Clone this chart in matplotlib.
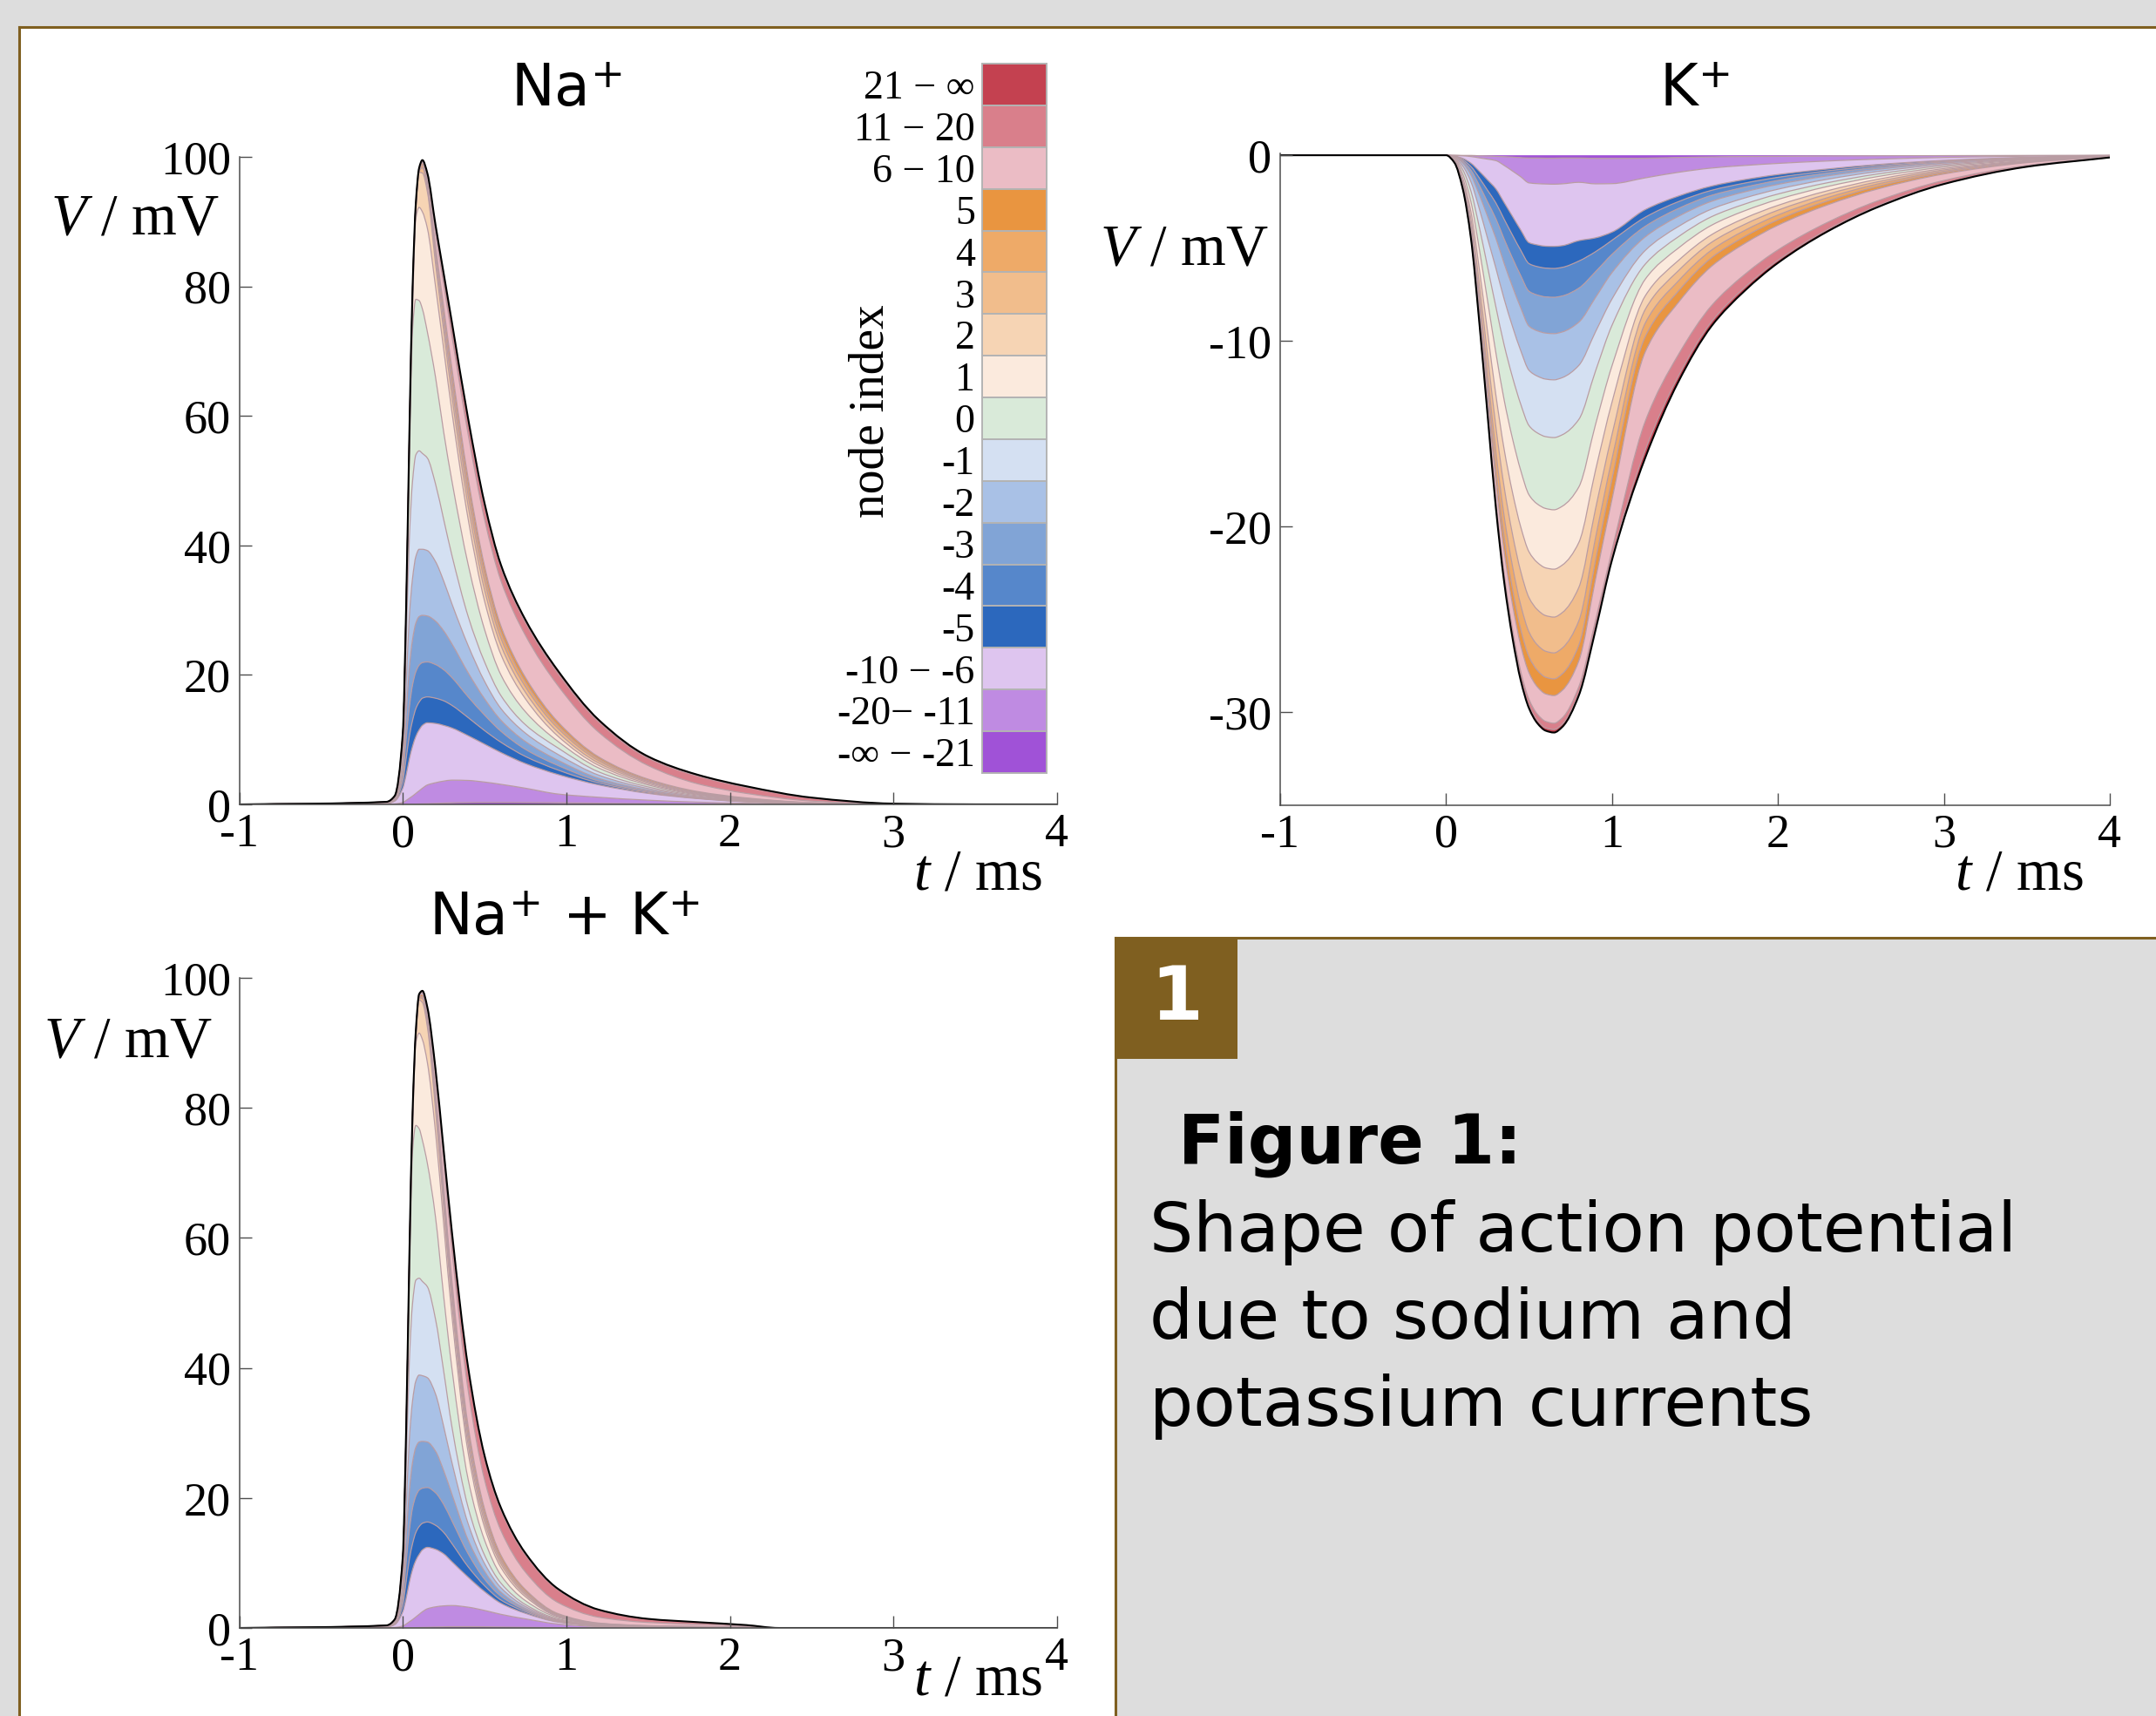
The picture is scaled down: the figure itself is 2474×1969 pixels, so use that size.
"""Action potential shape: stacked node contributions for Na+, K+ and Na+ + K+."""

import matplotlib
matplotlib.use("Agg")

import matplotlib.pyplot as plt
import numpy as np
from matplotlib.lines import Line2D
from matplotlib.patches import PathPatch, Rectangle
from matplotlib.path import Path

W, H, DPI = 2474, 1969, 100

plt.rcParams["mathtext.fontset"] = "custom"
plt.rcParams["mathtext.rm"] = "Liberation Serif"
plt.rcParams["mathtext.it"] = "Liberation Serif:italic"
plt.rcParams["mathtext.sf"] = "DejaVu Sans"

SERIF = "Liberation Serif"
SANS = "DejaVu Sans"
BROWN = "#7f5f20"
GRAY_BG = "#dddddd"
EDGE = "#b99ca3"
AXIS_COLOR = "#4d4d4d"

# legend entries, top to bottom
node_labels = ["21 \u2212 \u221e", "11 \u2212 20", "6 \u2212 10", "5", "4", "3", "2", "1", "0",
               "-1", "-2", "-3", "-4", "-5", "-10 \u2212 -6", "-20\u2212 -11", "-\u221e \u2212 -21"]
node_colors = ["#c44150", "#d97f8b", "#ebbcc5", "#e99540", "#eeaa68", "#f1bd8c", "#f6d4b4",
               "#fbeadd", "#d9ead9", "#d4e0f2", "#a9c1e6", "#81a4d6", "#5687cb", "#2c68bd",
               "#dec5ef", "#bf8be2", "#a052d7"]

# ---- Na+ panel: upper edge of each band (bottom band first), last row is the envelope ----
na_t = [-1.0, -0.1, -0.05, 0.0, 0.02, 0.04, 0.06, 0.08, 0.1, 0.12, 0.15, 0.2, 0.25, 0.3,
        0.4, 0.5, 0.6, 0.75, 0.95, 1.2, 1.5, 1.8, 2.1, 2.5, 3.0, 3.5, 4.0]
na_edges = [
    [0, 0, 0, 0.01, 0.02, 0.03, 0.04, 0.05, 0.07, 0.08, 0.1, 0.15, 0.2, 0.25, 0.3, 0.32, 0.32, 0.3, 0.25, 0.18, 0.1, 0.05, 0.02, 0.01, 0, 0, 0],
    [0, 0.02, 0.08, 0.3, 0.6, 0.95, 1.3, 1.7, 2.1, 2.5, 3.0, 3.35, 3.6, 3.75, 3.7, 3.45, 3.1, 2.5, 1.6, 1.1, 0.65, 0.35, 0.17, 0.05, 0.01, 0, 0],
    [0, 0.12, 0.5, 2.5, 4.5, 7.0, 9.0, 10.5, 11.5, 12.2, 12.6, 12.5, 12.2, 11.8, 10.6, 9.3, 8.0, 6.3, 4.6, 3.0, 1.7, 0.9, 0.4, 0.08, 0.01, 0, 0],
    [0, 0.15, 0.6, 3.5, 7.0, 10.5, 13.0, 14.8, 15.8, 16.4, 16.6, 16.4, 16.0, 15.3, 13.4, 11.4, 9.6, 7.4, 5.3, 3.3, 1.85, 0.95, 0.42, 0.09, 0.01, 0, 0],
    [0, 0.18, 0.7, 4.5, 10.0, 15.0, 18.5, 20.5, 21.5, 21.9, 22.0, 21.6, 20.8, 19.6, 16.6, 13.8, 11.3, 8.5, 6.0, 3.6, 2.0, 1.0, 0.45, 0.1, 0.01, 0, 0],
    [0, 0.2, 0.8, 5.5, 13.5, 21.0, 25.5, 28.0, 29.0, 29.2, 29.1, 28.3, 26.8, 24.8, 20.3, 16.3, 13.0, 9.7, 6.8, 4.0, 2.2, 1.1, 0.5, 0.11, 0.01, 0, 0],
    [0, 0.25, 0.9, 7.0, 18.0, 29.0, 35.0, 38.3, 39.4, 39.4, 39.2, 37.5, 34.5, 31.0, 24.5, 19.0, 14.8, 11.0, 7.7, 4.5, 2.45, 1.22, 0.56, 0.12, 0.01, 0, 0],
    [0, 0.3, 1.0, 8.5, 24.0, 41.0, 50.0, 54.0, 54.6, 54.2, 53.5, 49.5, 44.0, 38.5, 29.0, 22.0, 16.8, 12.3, 8.7, 5.0, 2.7, 1.35, 0.62, 0.14, 0.01, 0, 0],
    [0, 0.35, 1.1, 9.8, 27.5, 52.0, 73.5, 78.0, 77.8, 76.5, 73.0, 66.0, 57.5, 50.0, 37.0, 27.0, 20.0, 14.3, 9.7, 5.6, 3.0, 1.48, 0.7, 0.16, 0.01, 0, 0],
    [0, 0.37, 1.2, 10.4, 29.0, 55.5, 76.5, 90.5, 92.2, 91.5, 89.0, 80.0, 70.3, 60.7, 44.0, 31.4, 23.15, 16.3, 10.5, 6.0, 3.2, 1.58, 0.75, 0.18, 0.01, 0, 0],
    [0, 0.38, 1.22, 10.6, 29.5, 56.3, 79.3, 91.9, 97.6, 97.5, 94.65, 83.5, 73.1, 63.1, 46.0, 33.1, 24.55, 17.3, 11.1, 6.35, 3.4, 1.68, 0.81, 0.2, 0.01, 0, 0],
    [0, 0.39, 1.24, 10.7, 29.6, 56.5, 79.5, 92.2, 97.8, 98.3, 95.25, 84.6, 74.5, 64.7, 47.6, 34.5, 25.65, 18.15, 11.7, 6.7, 3.55, 1.78, 0.87, 0.22, 0.01, 0, 0],
    [0, 0.39, 1.26, 10.8, 29.7, 56.6, 79.6, 92.4, 97.9, 98.7, 95.75, 85.5, 75.7, 66.1, 49.0, 35.7, 26.65, 18.9, 12.2, 7.0, 3.7, 1.88, 0.93, 0.24, 0.01, 0, 0],
    [0, 0.4, 1.28, 10.85, 29.8, 56.7, 79.7, 92.6, 98.0, 99.0, 96.15, 86.3, 76.8, 67.4, 50.3, 36.8, 27.55, 19.6, 12.7, 7.3, 3.9, 2.0, 1.0, 0.27, 0.01, 0, 0],
    [0, 0.4, 1.3, 10.9, 29.85, 56.8, 79.8, 92.8, 98.1, 99.2, 96.95, 88.3, 80.3, 72.4, 57.1, 44.0, 34.55, 26.1, 18.3, 11.1, 6.0, 3.2, 1.7, 0.52, 0.04, 0, 0],
    [0, 0.4, 1.3, 10.95, 29.9, 56.9, 79.9, 92.9, 98.2, 99.35, 97.35, 89.2, 81.6, 74.0, 59.0, 46.0, 36.55, 28.1, 20.2, 12.7, 7.15, 4.4, 2.65, 0.97, 0.1, 0.01, 0],
    [0, 0.4, 1.3, 11.0, 30.0, 57.0, 80.0, 93.0, 98.3, 99.5, 97.5, 89.5, 82.0, 74.5, 59.5, 46.5, 37.0, 28.5, 20.6, 13.0, 7.4, 4.6, 2.8, 1.05, 0.12, 0.01, 0],
]

# ---- K+ panel ----
k_t = [-1.0, 0.0, 0.05, 0.1, 0.15, 0.2, 0.25, 0.3, 0.35, 0.4, 0.45, 0.5, 0.55, 0.6, 0.65,
       0.7, 0.8, 0.9, 1.0, 1.2, 1.4, 1.6, 1.8, 2.0, 2.3, 2.6, 3.0, 3.5, 4.0]
k_edges = [
    [0, 0, 0, -0.01, -0.01, -0.03, -0.04, -0.06, -0.08, -0.1, -0.13, -0.15, -0.15, -0.16, -0.16, -0.15, -0.15, -0.17, -0.17, -0.16, -0.12, -0.09, -0.07, -0.06, -0.04, -0.03, -0.02, -0.01, 0],
    [0, 0, -0.01, -0.03, -0.07, -0.14, -0.21, -0.29, -0.55, -0.85, -1.16, -1.49, -1.53, -1.55, -1.56, -1.54, -1.46, -1.54, -1.53, -1.22, -0.92, -0.69, -0.55, -0.44, -0.31, -0.21, -0.12, -0.05, -0.01],
    [0, 0, -0.04, -0.17, -0.43, -0.86, -1.33, -1.81, -2.55, -3.29, -4.03, -4.71, -4.83, -4.9, -4.91, -4.87, -4.6, -4.45, -4.14, -2.93, -2.2, -1.66, -1.31, -1.04, -0.74, -0.5, -0.28, -0.11, -0.02],
    [0, 0, -0.05, -0.24, -0.61, -1.22, -1.89, -2.57, -3.45, -4.3, -5.12, -5.84, -6.0, -6.08, -6.1, -6.04, -5.7, -5.2, -4.58, -3.34, -2.5, -1.89, -1.5, -1.19, -0.84, -0.57, -0.32, -0.13, -0.02],
    [0, 0, -0.07, -0.32, -0.81, -1.62, -2.52, -3.42, -4.52, -5.54, -6.49, -7.33, -7.53, -7.63, -7.65, -7.58, -7.16, -6.28, -5.34, -3.83, -2.87, -2.16, -1.72, -1.36, -0.96, -0.66, -0.36, -0.15, -0.03],
    [0, 0, -0.09, -0.42, -1.06, -2.12, -3.29, -4.47, -5.83, -7.07, -8.22, -9.21, -9.46, -9.58, -9.61, -9.52, -8.99, -7.67, -6.32, -4.4, -3.29, -2.48, -1.97, -1.57, -1.11, -0.76, -0.42, -0.17, -0.03],
    [0, 0, -0.13, -0.58, -1.44, -2.88, -4.48, -6.08, -7.75, -9.22, -10.53, -11.59, -11.9, -12.06, -12.1, -11.98, -11.32, -9.52, -7.74, -5.13, -3.84, -2.9, -2.3, -1.83, -1.29, -0.88, -0.49, -0.2, -0.04],
    [0, 0, -0.17, -0.77, -1.94, -3.87, -6.02, -8.17, -10.23, -11.95, -13.42, -14.57, -14.96, -15.16, -15.21, -15.06, -14.23, -11.64, -9.16, -5.87, -4.39, -3.31, -2.63, -2.09, -1.48, -1.01, -0.56, -0.22, -0.04],
    [0, 0, -0.22, -1.01, -2.52, -5.04, -7.84, -10.64, -13.19, -15.26, -16.99, -18.3, -18.79, -19.03, -19.1, -18.91, -17.87, -14.52, -11.34, -6.68, -5.0, -3.77, -2.99, -2.38, -1.68, -1.15, -0.64, -0.25, -0.05],
    [0, 0, -0.27, -1.22, -3.06, -6.12, -9.52, -12.92, -15.85, -18.16, -20.03, -21.37, -21.94, -22.23, -22.3, -22.08, -20.86, -16.99, -13.3, -7.58, -5.67, -4.28, -3.39, -2.7, -1.91, -1.3, -0.72, -0.29, -0.06],
    [0, 0, -0.31, -1.39, -3.47, -6.93, -10.78, -14.63, -17.88, -20.41, -22.43, -23.84, -24.48, -24.8, -24.88, -24.64, -23.28, -19.07, -15.04, -8.31, -6.22, -4.69, -3.72, -2.96, -2.09, -1.43, -0.79, -0.32, -0.06],
    [0, 0, -0.34, -1.51, -3.78, -7.56, -11.76, -15.96, -19.45, -22.13, -24.24, -25.69, -26.38, -26.72, -26.81, -26.55, -25.08, -20.63, -16.35, -9.05, -6.77, -5.11, -4.05, -3.22, -2.28, -1.55, -0.86, -0.34, -0.07],
    [0, 0, -0.36, -1.6, -4.01, -8.01, -12.46, -16.91, -20.57, -23.36, -25.55, -27.03, -27.75, -28.12, -28.21, -27.94, -26.39, -21.85, -17.44, -9.78, -7.32, -5.52, -4.38, -3.48, -2.46, -1.68, -0.93, -0.37, -0.07],
    [0, 0, -0.37, -1.67, -4.16, -8.33, -12.95, -17.58, -21.34, -24.19, -26.41, -27.89, -28.64, -29.02, -29.11, -28.83, -27.24, -22.86, -18.53, -10.6, -7.93, -5.98, -4.75, -3.77, -2.67, -1.82, -1.01, -0.4, -0.08],
    [0, 0, -0.39, -1.76, -4.41, -8.82, -13.72, -18.62, -22.56, -25.53, -27.82, -29.32, -30.11, -30.5, -30.6, -30.31, -28.63, -25.08, -21.26, -14.34, -10.74, -8.1, -6.42, -5.1, -3.61, -2.46, -1.36, -0.55, -0.11],
    [0, 0, -0.4, -1.79, -4.48, -8.96, -13.93, -18.91, -22.89, -25.87, -28.16, -29.65, -30.45, -30.85, -30.94, -30.65, -28.95, -25.45, -21.65, -15.89, -11.9, -8.97, -7.12, -5.66, -4.0, -2.73, -1.51, -0.6, -0.12],
    [0, 0, -0.4, -1.8, -4.5, -9.0, -14.0, -19.0, -23.0, -26.0, -28.3, -29.8, -30.6, -31.0, -31.1, -30.8, -29.1, -25.6, -21.8, -16.3, -12.2, -9.2, -7.3, -5.8, -4.1, -2.8, -1.55, -0.62, -0.12],
]

# ---- Na+ + K+ panel ----
nak_t = [-1.0, -0.1, -0.05, 0.0, 0.02, 0.04, 0.06, 0.08, 0.1, 0.12, 0.15, 0.2, 0.25, 0.3,
         0.4, 0.5, 0.6, 0.75, 0.95, 1.2, 1.5, 1.8, 2.1, 2.3, 3.0, 3.5, 4.0]
nak_edges = [
    [0, 0, 0, 0.01, 0.02, 0.03, 0.04, 0.05, 0.07, 0.08, 0.1, 0.14, 0.17, 0.2, 0.2, 0.18, 0.14, 0.1, 0.05, 0.02, 0.01, 0, 0, 0, 0, 0, 0],
    [0, 0.02, 0.08, 0.3, 0.6, 0.95, 1.3, 1.7, 2.1, 2.5, 2.95, 3.25, 3.4, 3.45, 3.2, 2.7, 2.1, 1.4, 0.6, 0.2, 0.1, 0.06, 0.02, 0, 0, 0, 0],
    [0, 0.12, 0.5, 2.5, 4.5, 7.0, 9.0, 10.4, 11.3, 12.0, 12.4, 12.1, 11.4, 10.2, 7.8, 5.6, 3.8, 2.25, 0.9, 0.3, 0.14, 0.08, 0.03, 0, 0, 0, 0],
    [0, 0.15, 0.6, 3.5, 7.0, 10.5, 13.0, 14.7, 15.6, 16.1, 16.3, 15.8, 14.7, 13.0, 9.4, 6.5, 4.3, 2.5, 0.98, 0.33, 0.15, 0.09, 0.04, 0, 0, 0, 0],
    [0, 0.18, 0.7, 4.5, 10.0, 15.0, 18.5, 20.3, 21.2, 21.5, 21.6, 20.8, 19.0, 16.5, 11.4, 7.5, 4.9, 2.75, 1.07, 0.36, 0.16, 0.1, 0.04, 0, 0, 0, 0],
    [0, 0.2, 0.8, 5.5, 13.5, 21.0, 25.5, 27.8, 28.6, 28.7, 28.6, 27.2, 24.2, 20.6, 13.5, 8.7, 5.5, 3.0, 1.17, 0.39, 0.17, 0.11, 0.05, 0, 0, 0, 0],
    [0, 0.25, 0.9, 7.0, 18.0, 29.0, 35.0, 38.0, 38.9, 38.8, 38.5, 36.0, 31.0, 25.5, 16.0, 9.9, 6.2, 3.3, 1.28, 0.43, 0.19, 0.12, 0.05, 0, 0, 0, 0],
    [0, 0.3, 1.0, 8.5, 24.0, 41.0, 50.0, 53.5, 53.8, 53.3, 52.5, 47.5, 39.5, 31.0, 18.5, 11.2, 6.9, 3.6, 1.4, 0.47, 0.21, 0.13, 0.06, 0, 0, 0, 0],
    [0, 0.35, 1.1, 9.8, 27.5, 52.0, 73.5, 77.3, 76.8, 75.0, 71.5, 63.2, 51.0, 40.0, 22.8, 13.5, 8.1, 4.2, 1.6, 0.53, 0.24, 0.15, 0.07, 0, 0, 0, 0],
    [0, 0.37, 1.2, 10.4, 29.0, 55.5, 76.5, 90.0, 91.5, 90.5, 87.0, 76.3, 62.1, 48.1, 26.9, 15.5, 9.3, 4.8, 1.75, 0.58, 0.26, 0.16, 0.08, 0, 0, 0, 0],
    [0, 0.38, 1.22, 10.6, 29.5, 56.3, 78.8, 90.9, 96.6, 96.2, 92.5, 79.7, 64.6, 50.0, 28.1, 16.3, 9.85, 5.1, 1.85, 0.62, 0.28, 0.18, 0.09, 0, 0, 0, 0],
    [0, 0.39, 1.24, 10.7, 29.6, 56.5, 79.0, 91.2, 96.9, 96.8, 93.1, 80.8, 65.9, 51.2, 29.1, 17.0, 10.3, 5.35, 1.95, 0.66, 0.3, 0.19, 0.1, 0, 0, 0, 0],
    [0, 0.39, 1.26, 10.8, 29.7, 56.6, 79.1, 91.4, 97.1, 97.1, 93.6, 81.7, 67.0, 52.4, 30.0, 17.6, 10.7, 5.6, 2.05, 0.7, 0.32, 0.2, 0.11, 0, 0, 0, 0],
    [0, 0.4, 1.28, 10.85, 29.8, 56.7, 79.2, 91.6, 97.2, 97.4, 94.0, 82.5, 68.0, 53.5, 31.0, 18.3, 11.2, 5.9, 2.2, 0.75, 0.35, 0.22, 0.12, 0, 0, 0, 0],
    [0, 0.4, 1.3, 10.9, 29.85, 56.8, 79.3, 91.8, 97.3, 97.7, 94.9, 84.8, 71.6, 58.3, 36.5, 22.8, 15.0, 8.6, 3.9, 1.65, 0.85, 0.55, 0.28, 0, 0, 0, 0],
    [0, 0.4, 1.3, 10.95, 29.9, 56.9, 79.4, 91.9, 97.4, 97.85, 95.35, 85.7, 73.1, 60.5, 39.5, 26.1, 18.15, 11.25, 5.85, 2.72, 1.36, 0.87, 0.43, 0, 0, 0, 0],
    [0, 0.4, 1.3, 11.0, 30.0, 57.0, 79.5, 92.0, 97.5, 98.0, 95.5, 86.0, 73.5, 61.0, 40.0, 26.5, 18.5, 11.5, 6.0, 2.8, 1.4, 0.9, 0.45, 0, 0, 0, 0],
]

t_ticks = [-1, 0, 1, 2, 3, 4]
v_ticks_na = [0, 20, 40, 60, 80, 100]
v_ticks_k = [0, -10, -20, -30]

caption_title = "Figure 1:"
caption_lines = ["Shape of action potential", "due to sodium and", "potassium currents"]


def fx(x):
    return x / W


def fy(y):
    return 1 - y / H


def px_axes(fig, x0, y0, x1, y1):
    return fig.add_axes([x0 / W, 1 - y1 / H, (x1 - x0) / W, (y1 - y0) / H])


def smooth_verts(x, y):
    """Bezier vertices of a monotone (non-overshooting) curve through the points."""
    x = np.asarray(x, dtype=float)
    y = np.asarray(y, dtype=float)
    h = np.diff(x)
    d = np.diff(y) / h
    m = np.zeros_like(y)
    m[0], m[-1] = d[0], d[-1]
    for i in range(1, len(y) - 1):
        if d[i - 1] * d[i] > 0:
            w1 = 2 * h[i] + h[i - 1]
            w2 = h[i] + 2 * h[i - 1]
            m[i] = (w1 + w2) / (w1 / d[i - 1] + w2 / d[i])
    verts = [(x[0], y[0])]
    for i in range(len(x) - 1):
        verts.append((x[i] + h[i] / 3, y[i] + m[i] * h[i] / 3))
        verts.append((x[i + 1] - h[i] / 3, y[i + 1] - m[i + 1] * h[i] / 3))
        verts.append((x[i + 1], y[i + 1]))
    return verts


def curve_path(x, y):
    verts = smooth_verts(x, y)
    return Path(verts, [Path.MOVETO] + [Path.CURVE4] * (len(verts) - 1))


def draw_stack(ax, t, edges):
    band_colors = node_colors[::-1]
    lower = smooth_verts(t, np.zeros(len(t)))
    for row, color in zip(edges, band_colors):
        upper = smooth_verts(t, row)
        verts = upper + lower[::-1] + [upper[0]]
        codes = ([Path.MOVETO] + [Path.CURVE4] * (len(upper) - 1) + [Path.LINETO]
                 + [Path.CURVE4] * (len(lower) - 1) + [Path.CLOSEPOLY])
        ax.add_patch(PathPatch(Path(verts, codes), facecolor=color, edgecolor="none", lw=0))
        lower = upper
    for row in edges[:-1]:
        ax.add_patch(PathPatch(curve_path(t, row), facecolor="none", edgecolor=EDGE, lw=0.9))
    ax.add_patch(PathPatch(curve_path(t, edges[-1]), facecolor="none", edgecolor="black",
                           lw=1.5))


def style_axes(ax, ylim, yticks):
    ax.set_xlim(-1, 4)
    ax.set_ylim(*ylim)
    ax.set_facecolor("none")
    for side in ("top", "right"):
        ax.spines[side].set_visible(False)
    for side in ("left", "bottom"):
        ax.spines[side].set_color(AXIS_COLOR)
        ax.spines[side].set_linewidth(1.1)
        ax.spines[side].set_zorder(5)
    ax.set_xticks(t_ticks)
    ax.set_xticklabels([str(v) for v in t_ticks])
    ax.set_yticks(yticks)
    ax.set_yticklabels([str(v) for v in yticks])
    ax.tick_params(direction="in", length=10, width=1.0, color=AXIS_COLOR,
                   labelsize=39, pad=7)
    for lab in ax.get_xticklabels() + ax.get_yticklabels():
        lab.set_fontfamily(SERIF)


fig = plt.figure(figsize=(W / DPI, H / DPI), dpi=DPI)
fig.patch.set_facecolor(GRAY_BG)

# white panel with brown top/left border
fig.patches.append(Rectangle((fx(22), 0), 1 - fx(22), fy(31), transform=fig.transFigure,
                             facecolor="white", edgecolor="none", zorder=-10))
fig.lines.append(Line2D([fx(22), 1], [fy(31), fy(31)], transform=fig.transFigure,
                        color=BROWN, lw=2.2))
fig.lines.append(Line2D([fx(22), fx(22)], [0, fy(31)], transform=fig.transFigure,
                        color=BROWN, lw=2.2))

# caption box
fig.patches.append(Rectangle((fx(1280), 0), 1 - fx(1280), fy(1076), transform=fig.transFigure,
                             facecolor=GRAY_BG, edgecolor="none", zorder=-5))
fig.lines.append(Line2D([fx(1280), 1], [fy(1076), fy(1076)], transform=fig.transFigure,
                        color=BROWN, lw=2.2))
fig.lines.append(Line2D([fx(1280), fx(1280)], [0, fy(1076)], transform=fig.transFigure,
                        color=BROWN, lw=2.2))
fig.patches.append(Rectangle((fx(1280), fy(1215)), fx(1420) - fx(1280), fy(1076) - fy(1215),
                             transform=fig.transFigure, facecolor=BROWN, edgecolor="none"))
fig.text(fx(1350), fy(1146), "1", color="white", fontsize=62, fontweight="bold",
         fontfamily=SANS, ha="center", va="center")
fig.text(fx(1352), fy(1334), caption_title, fontsize=56, fontweight="bold",
         fontfamily=SANS, ha="left", va="baseline")
for i, line in enumerate(caption_lines):
    fig.text(fx(1319), fy(1436 + 100 * i), line, fontsize=57, fontfamily=SANS,
             ha="left", va="baseline")

# Na+ panel
ax_na = px_axes(fig, 274.5, 180, 1213, 923)
draw_stack(ax_na, na_t, na_edges)
style_axes(ax_na, (0, 100), v_ticks_na)

# K+ panel
ax_k = px_axes(fig, 1469, 176, 2421, 923.6)
draw_stack(ax_k, k_t, k_edges)
style_axes(ax_k, (-35, 0.1), v_ticks_k)

# Na+ + K+ panel
ax_nak = px_axes(fig, 274.5, 1122, 1213, 1868)
draw_stack(ax_nak, nak_t, nak_edges)
style_axes(ax_nak, (0, 100), v_ticks_na)

# titles and axis labels
for x, y, s in [(650, 103, r"Na$^{\mathsf{+}}$"), (1944, 103, r"K$^{\mathsf{+}}$"),
                (647, 1054, r"Na$^{\mathsf{+}}$ + K$^{\mathsf{+}}$")]:
    fig.text(fx(x), fy(y), s, fontsize=48, fontfamily=SANS, ha="center", va="center")
for x, y in [(58, 252), (1262, 287), (50, 1196)]:
    fig.text(fx(x), fy(y), r"$V$ / mV", fontsize=48, fontfamily=SERIF, ha="left", va="center")
for x, y in [(1196, 1004), (2391, 1004), (1196, 1928)]:
    fig.text(fx(x), fy(y), r"$t$ / ms", fontsize=48, fontfamily=SERIF, ha="right", va="center")

# node index legend
ax_leg = px_axes(fig, 1127, 73, 1201, 887)
ax_leg.set_xlim(0, 1)
ax_leg.set_ylim(0, len(node_labels))
n = len(node_labels)
for i, color in enumerate(node_colors):
    ax_leg.add_patch(Rectangle((0, n - 1 - i), 1, 1, facecolor=color, edgecolor="#b3b3b3",
                               lw=1.4, clip_on=False))
ax_leg.set_xticks([])
ax_leg.set_yticks([n - 0.5 - i for i in range(n)])
ax_leg.set_yticklabels(node_labels, fontfamily=SERIF, fontsize=33)
ax_leg.tick_params(length=0, pad=6)
for spine in ax_leg.spines.values():
    spine.set_visible(False)
ax_leg.set_facecolor("none")
fig.text(fx(1000), fy(472), "node index", rotation=90, fontsize=40, fontfamily=SERIF,
         ha="center", va="center")

fig.savefig("out.png", dpi=DPI, facecolor=fig.get_facecolor())
